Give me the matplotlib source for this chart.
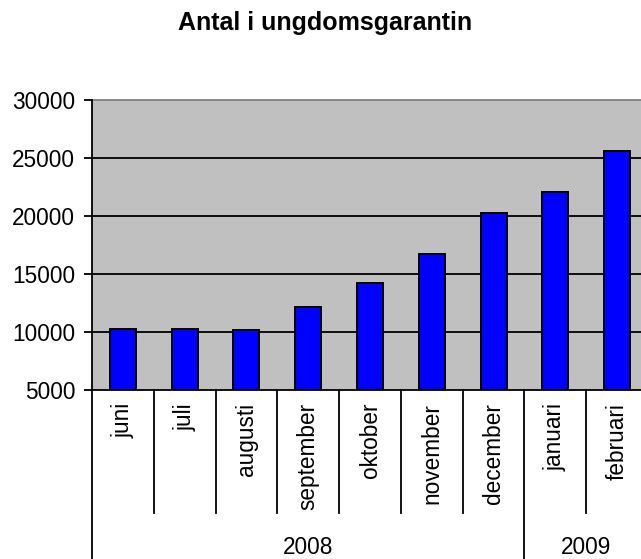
import matplotlib.pyplot as plt
import matplotlib.transforms as mtransforms

plt.rcParams['font.family'] = ['Liberation Sans', 'DejaVu Sans']

months = ['juni', 'juli', 'augusti', 'september', 'oktober',
          'november', 'december', 'januari', 'februari']
values = [10300, 10300, 10150, 12150, 14200, 16750, 20250, 22050, 25600]
years = ['2008', '2009']
year_spans = [(-0.5, 6.5), (6.5, 8.5)]
yticks = [5000, 10000, 15000, 20000, 25000, 30000]

W, H = 641, 559
fig = plt.figure(figsize=(W / 100, H / 100), dpi=100)

# plot area: x from 92px to 648px (runs past the right edge), y from 100px to 390px
ax = fig.add_axes([92 / W, 1 - 390 / H, 556 / W, 290 / H])
ax.set_facecolor('#c0c0c0')

x = list(range(len(months)))
ax.bar(x, [v - 5000 for v in values], bottom=5000, width=0.42,
       color='#0000ff', edgecolor='black', linewidth=1.4, zorder=3)

ax.set_xlim(-0.5, 8.5)
ax.set_ylim(5000, 30000)
ax.set_yticks(yticks)
ax.set_yticklabels([str(t) for t in yticks], fontsize=16.3)
ax.tick_params(axis='y', direction='out', length=6, width=1.3, pad=6)
ax.set_xticks([])

for t in yticks[1:-1]:
    ax.axhline(t, color='black', linewidth=1.3, zorder=1)

for side in ['top', 'right']:
    ax.spines[side].set_color('#808080')
    ax.spines[side].set_linewidth(1.3)
ax.spines['left'].set_linewidth(1.3)
ax.spines['bottom'].set_linewidth(1.3)
ax.spines['left'].set_zorder(4)

# category axis below the plot, y in figure fraction
trans = mtransforms.blended_transform_factory(ax.transData, fig.transFigure)
y_axis = 1 - 390 / H
y_sep = 1 - 513 / H

for i in range(len(months) + 1):
    xs = i - 0.5
    if xs in (-0.5, 6.5, 8.5):
        y_end = 0.0
    else:
        y_end = y_sep
    ax.plot([xs, xs], [y_axis, y_end], color='black', linewidth=1.3,
            transform=trans, clip_on=False)

for i, m in enumerate(months):
    ax.text(i, 1 - 403 / H, m, rotation=90, ha='center', va='top',
            fontsize=16.3, transform=trans)

for name, (a, b) in zip(years, year_spans):
    ax.text((a + b) / 2, 1 - 548 / H, name, ha='center', va='center',
            fontsize=16.3, transform=trans)

fig.text(325 / W, 1 - 23 / H, 'Antal i ungdomsgarantin', ha='center',
         va='center', fontsize=18, fontweight='bold')

plt.savefig('out.png', dpi=100)
